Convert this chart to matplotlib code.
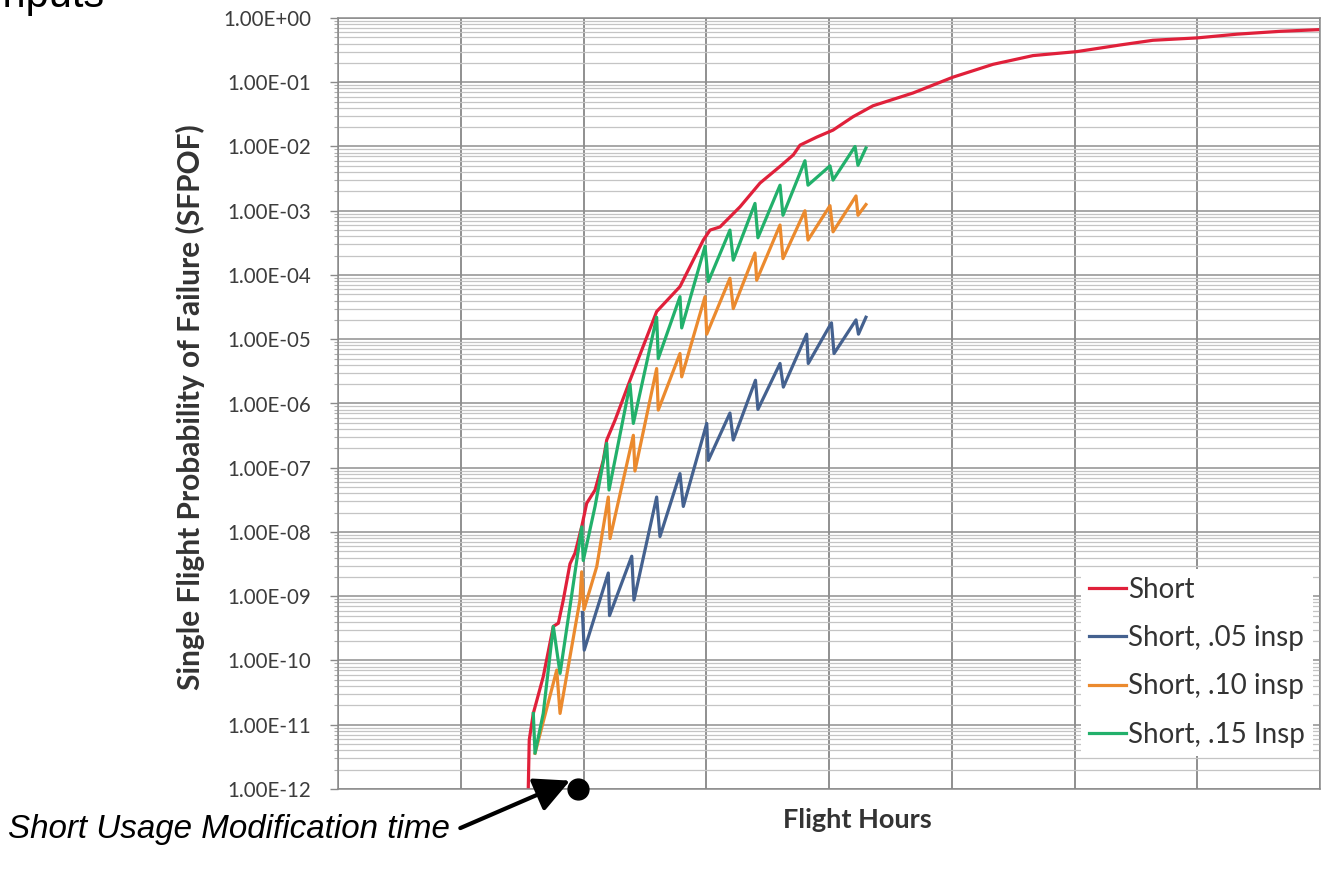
import matplotlib
matplotlib.use("Agg")
import matplotlib.pyplot as plt
from matplotlib.ticker import FixedLocator, FuncFormatter, LogLocator, NullFormatter

# ---- data -------------------------------------------------------------
# Flight hours / single flight probability of failure
short_hours = [1550, 1558, 1591, 1672, 1754, 1795, 1835, 1890, 1931, 1985,
               2026, 2094, 2161, 2189, 2257, 2379, 2596, 2786, 2976, 3031,
               3112, 3275, 3438, 3601, 3709, 3764, 3900, 4033, 4195, 4358,
               4684, 5010, 5336, 5662, 6020, 6371, 6639, 6998, 7324, 7674, 8000]
short_pof = [1.0e-12, 5.8e-12, 1.5e-11, 5.6e-11, 3.4e-10, 3.8e-10, 8.7e-10,
             3.2e-9, 4.7e-9, 1.2e-8, 2.8e-8, 4.5e-8, 1.3e-7, 2.7e-7, 5.5e-7,
             2.3e-6, 2.7e-5, 6.6e-5, 3.5e-4, 5.0e-4, 5.6e-4, 1.15e-3, 2.7e-3,
             4.9e-3, 7.4e-3, 1.05e-2, 1.4e-2, 1.8e-2, 2.9e-2, 4.3e-2, 6.8e-2,
             0.12, 0.19, 0.26, 0.30, 0.38, 0.45, 0.49, 0.56, 0.62, 0.66]

insp05_hours = [1991, 2006, 2202, 2212, 2393, 2411, 2596, 2623, 2786, 2813,
                3004, 3017, 3193, 3220, 3401, 3421, 3601, 3628, 3818, 3831,
                4020, 4041, 4220, 4240, 4301]
insp05_pof = [5.6e-10, 1.45e-10, 2.3e-9, 5.0e-10, 4.2e-9, 8.7e-10, 3.5e-8,
              8.5e-9, 8.1e-8, 2.5e-8, 4.9e-7, 1.3e-7, 7.1e-7, 2.7e-7, 2.3e-6,
              8.1e-7, 4.2e-6, 1.8e-6, 1.2e-5, 4.2e-6, 1.8e-5, 6.0e-6, 2.0e-5,
              1.2e-5, 2.2e-5]

insp10_hours = [1605, 1782, 1809, 1890, 1971, 1985, 2004, 2108, 2202, 2216,
                2406, 2419, 2596, 2609, 2786, 2800, 2990, 3004, 3193, 3220,
                3397, 3411, 3601, 3625, 3804, 3829, 4008, 4033, 4220, 4236, 4301]
insp10_pof = [3.6e-12, 7.1e-11, 1.5e-11, 1.15e-10, 8.7e-10, 2.4e-9, 6.2e-10,
              2.9e-9, 3.5e-8, 7.9e-9, 3.2e-7, 8.9e-8, 3.5e-6, 7.9e-7, 6.0e-6,
              2.6e-6, 4.6e-5, 1.2e-5, 8.9e-5, 3.0e-5, 2.2e-4, 8.3e-5, 6.0e-4,
              1.8e-4, 1.0e-3, 3.5e-4, 1.2e-3, 4.7e-4, 1.7e-3, 8.5e-4, 1.25e-3]

insp15_hours = [1591, 1605, 1672, 1754, 1809, 1890, 1985, 1998, 2094, 2189,
                2208, 2379, 2406, 2596, 2609, 2786, 2800, 2990, 3017, 3193,
                3220, 3397, 3421, 3601, 3625, 3804, 3829, 4008, 4033, 4212,
                4236, 4301]
insp15_pof = [1.5e-11, 3.6e-12, 1.5e-11, 3.4e-10, 6.3e-11, 6.9e-10, 1.2e-8,
              3.6e-9, 2.5e-8, 2.4e-7, 4.5e-8, 2.0e-6, 4.9e-7, 2.2e-5, 5.0e-6,
              4.6e-5, 1.5e-5, 2.8e-4, 7.9e-5, 5.0e-4, 1.7e-4, 1.3e-3, 3.8e-4,
              2.5e-3, 8.5e-4, 6.0e-3, 2.5e-3, 5.0e-3, 3.0e-3, 1.0e-2, 5.1e-3,
              9.5e-3]

series_labels = ["Short", "Short, .05 insp", "Short, .10 insp", "Short, .15 Insp"]
series_colors = ["#E0203A", "#44618F", "#EB8A2E", "#22B06B"]

hour_gridlines = [0, 1000, 2000, 3000, 4000, 5000, 6000, 7000, 8000]
modification_hours = 1955

# ---- figure -------------------------------------------------------------
W, H = 1328, 872
fig = plt.figure(figsize=(W / 100, H / 100), dpi=100)
fig.patch.set_facecolor("white")

ax_l, ax_r, ax_t, ax_b = 338, 1320, 18, 789
ax = fig.add_axes([ax_l / W, 1 - ax_b / H, (ax_r - ax_l) / W, (ax_b - ax_t) / H])
ax.set_yscale("log")
ax.set_ylim(1e-12, 1.0)
ax.set_xlim(hour_gridlines[0], hour_gridlines[-1])

# grid
ax.set_axisbelow(True)
ax.xaxis.set_major_locator(FixedLocator(hour_gridlines))
ax.yaxis.set_major_locator(LogLocator(base=10, numticks=20))
ax.yaxis.set_minor_locator(LogLocator(base=10, subs=range(2, 10), numticks=200))
ax.yaxis.set_minor_formatter(NullFormatter())
ax.grid(which="major", axis="y", color="#8f8f8f", linewidth=1.1)
ax.grid(which="minor", axis="y", color="#c4c4c4", linewidth=0.9)
ax.grid(which="major", axis="x", color="#727272", linewidth=1.1)

for side in ("left", "bottom", "top", "right"):
    ax.spines[side].set_color("#8a8a8a")
    ax.spines[side].set_linewidth(1.1)

label_font = ["Lato", "DejaVu Sans"]
ax.yaxis.set_major_formatter(FuncFormatter(lambda v, _: f"{v:.2E}"))
ax.tick_params(axis="y", which="major", length=6, width=1, color="#8a8a8a",
               pad=13, labelsize=14.8, labelcolor="#3c3c3c")
ax.tick_params(axis="y", which="minor", length=3, width=0.8, color="#b0b0b0")
for lbl in ax.get_yticklabels():
    lbl.set_family(label_font)
ax.tick_params(axis="x", length=0, labelbottom=False)

# curves
all_hours = [short_hours, insp05_hours, insp10_hours, insp15_hours]
all_pof = [short_pof, insp05_pof, insp10_pof, insp15_pof]
for xs, ys, lab, col in zip(all_hours, all_pof, series_labels, series_colors):
    ax.plot(xs, ys, color=col, linewidth=2.3, label=lab, solid_joinstyle="round")

leg = ax.legend(loc="lower right", bbox_to_anchor=(0.9929, 0.043),
                frameon=True, fancybox=False, edgecolor="none",
                facecolor="white", framealpha=1.0,
                prop={"family": label_font, "size": 20},
                handlelength=1.33, handletextpad=0.07, labelspacing=0.8,
                borderpad=0.3, borderaxespad=0.0)
for txt in leg.get_texts():
    txt.set_color("#333333")

# modification time marker
ax.plot([modification_hours], [1e-12], marker="o", markersize=15,
        color="black", clip_on=False, zorder=10)

# axis titles
fig.text(190 / W, 1 - 407 / H, "Single Flight Probability of Failure (SFPOF)",
         rotation=90, ha="center", va="center", fontsize=21.5,
         fontweight="bold", family=label_font, color="#333333")
fig.text(857 / W, 1 - 820 / H, "Flight Hours", ha="center", va="center",
         fontsize=19.5, fontweight="bold", family=label_font, color="#333333")

# annotation
ax.annotate("Short Usage Modification time",
            xy=(1890, 1.35e-12), xycoords="data",
            xytext=(8 / W, 1 - 838 / H), textcoords="figure fraction",
            ha="left", va="baseline", fontsize=23.9, style="italic",
            family="Liberation Sans", color="black",
            arrowprops=dict(arrowstyle="-|>,head_length=0.9,head_width=0.45",
                            color="black", lw=3,
                            shrinkA=6, shrinkB=0,
                            relpos=(1.0, 0.4)),
            annotation_clip=False)

fig.text(-9 / W, 1 - 7 / H, "Inputs", ha="left", va="baseline",
         fontsize=30, family="Liberation Sans", color="black")

fig.savefig("out.png", dpi=100, facecolor="white")
